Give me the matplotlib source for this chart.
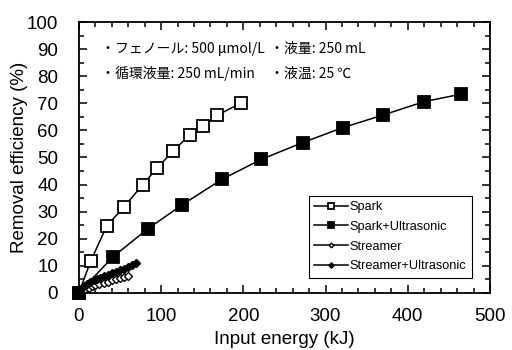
import matplotlib
matplotlib.use("Agg")
import matplotlib.pyplot as plt
from matplotlib.ticker import MultipleLocator

plt.rcParams['font.family'] = ['Liberation Sans', 'DejaVu Sans']

# removal efficiency vs. input energy
spark_x = [0, 14.6, 34.1, 54.4, 77.5, 95.1, 114.7, 134.7, 150.5, 168.2, 196.7]
spark_y = [0, 11.9, 24.8, 31.6, 39.9, 46.1, 52.4, 58.3, 61.6, 65.6, 70.0]

spark_us_x = [0, 41.0, 83.6, 125.9, 174.3, 221.8, 272.1, 320.8, 370.2, 419.7, 465.0]
spark_us_y = [0, 13.2, 23.6, 32.6, 42.0, 49.3, 55.5, 61.0, 65.7, 70.6, 73.4]

streamer_x = [0, 4, 8, 12, 16, 20, 25, 30, 35, 40, 45, 50, 55, 60]
streamer_y = [0, 0.8, 1.5, 2.0, 2.5, 2.9, 3.3, 3.8, 4.2, 4.7, 5.1, 5.6, 6.0, 6.4]

streamer_us_x = [0, 3, 6, 10, 14, 18, 22, 26, 30, 35, 40, 45, 50, 55, 60, 65, 70]
streamer_us_y = [0, 1.5, 2.5, 3.3, 4.0, 4.6, 5.1, 5.6, 6.1, 6.6, 7.2, 7.7, 8.3, 8.9, 9.6, 10.3, 11.0]

labels = ["Spark", "Spark+Ultrasonic", "Streamer", "Streamer+Ultrasonic"]

fig = plt.figure(figsize=(5.12, 3.5), dpi=100)
ax = fig.add_axes([0.154, 0.163, 0.803, 0.774])

lw = 1.1
ax.plot(spark_x, spark_y, '-s', color='black', lw=lw, ms=8, mfc='white',
        mec='black', mew=1.3, clip_on=False, label=labels[0])
ax.plot(spark_us_x, spark_us_y, '-s', color='black', lw=lw, ms=8, mfc='black',
        mec='black', mew=1.3, clip_on=False, label=labels[1])
ax.plot(streamer_x, streamer_y, '-D', color='black', lw=lw, ms=4, mfc='white',
        mec='black', mew=1.0, clip_on=False, label=labels[2])
ax.plot(streamer_us_x, streamer_us_y, '-D', color='black', lw=lw, ms=4.5, mfc='black',
        mec='black', mew=1.0, clip_on=False, label=labels[3])

ax.set_xlim(0, 500)
ax.set_ylim(0, 100)
ax.xaxis.set_major_locator(MultipleLocator(100))
ax.xaxis.set_minor_locator(MultipleLocator(20))
ax.yaxis.set_major_locator(MultipleLocator(10))
ax.yaxis.set_minor_locator(MultipleLocator(5))
ax.tick_params(which='both', direction='in', top=True, right=True, width=1.1)
ax.tick_params(which='major', length=5.5, labelsize=13.5)
ax.tick_params(axis='x', which='major', pad=11)
ax.tick_params(axis='y', which='major', pad=15)
ax.tick_params(which='minor', length=3.5)
for sp in ax.spines.values():
    sp.set_linewidth(1.3)

ax.set_xlabel("Input energy (kJ)", fontsize=13.5, labelpad=4)
ax.set_ylabel("Removal efficiency (%)", fontsize=13.5, labelpad=-1)

# experimental conditions
jp = ['Noto Sans CJK JP', 'DejaVu Sans']
ax.text(27, 90, "・フェノール: 500 μmol/L", family=jp, fontsize=10, va='center')
ax.text(233, 90, "・液量: 250 mL", family=jp, fontsize=10, va='center')
ax.text(27, 81, "・循環液量: 250 mL/min", family=jp, fontsize=10, va='center')
ax.text(233, 81, "・液温: 25 ℃", family=jp, fontsize=10, va='center')

leg = ax.legend(loc='lower right', bbox_to_anchor=(0.956, 0.055), fontsize=9.2,
                frameon=True, fancybox=False, edgecolor='black', framealpha=1,
                labelspacing=0.6, handlelength=2.6, handletextpad=0.15,
                borderpad=0.45, borderaxespad=0, markerscale=0.6)
leg.get_frame().set_linewidth(0.8)

fig.savefig("out.png", dpi=100)
